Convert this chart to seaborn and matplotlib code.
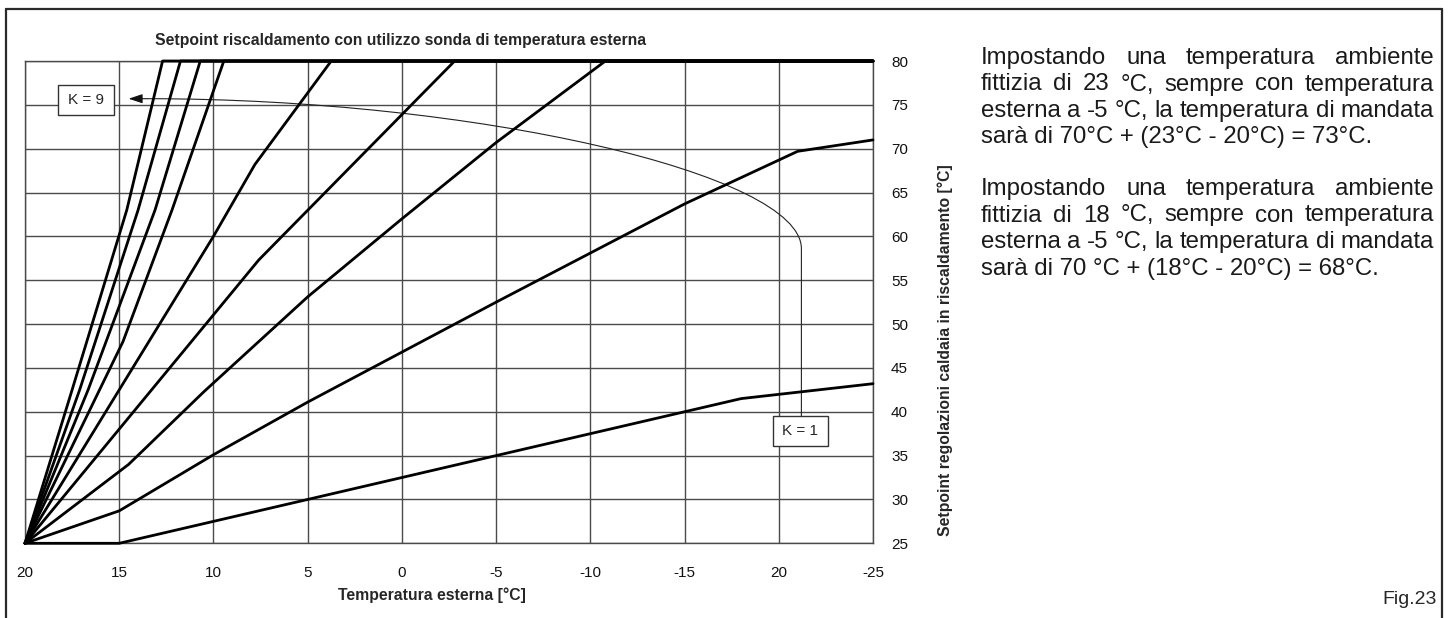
import matplotlib
matplotlib.use("Agg")
import numpy as np
import pandas as pd
import matplotlib.pyplot as plt
import seaborn as sns
from matplotlib.patches import PathPatch, Rectangle
from matplotlib.path import Path
from matplotlib.lines import Line2D

# ==========================================
# data
# ==========================================
x_ticks = [20, 15, 10, 5, 0, -5, -10, -15, -20, -25]
x_tick_labels = ["20", "15", "10", "5", "0", "-5", "-10", "-15", "20", "-25"]  # as printed
y_ticks = [25, 30, 35, 40, 45, 50, 55, 60, 65, 70, 75, 80]

# heating curves, outdoor temp -> boiler setpoint (K=1 lowest ... K=9 steepest)
k1_x = [20, 15, -18, -25]
k1_y = [25, 25, 41.5, 43.2]
k2_x = [20, 15, 10, 5, 0, -5, -10, -15, -21, -25]
k2_y = [25, 28.7, 35.1, 41.1, 46.8, 52.5, 58.1, 63.7, 69.7, 71.0]
k3_x = [20, 14.5, 10.5, 5, 0, -5, -10.8, -25]
k3_y = [25, 34.0, 42.3, 53.1, 62.0, 70.7, 80, 80]
k4_x = [20, 7.6, -2.8, -25]
k4_y = [25, 57.3, 80, 80]
k5_x = [20, 10, 7.8, 3.75, -25]
k5_y = [25, 60, 68.2, 80, 80]
k6_x = [20, 14.8, 12.2, 9.45, -25]
k6_y = [25, 48, 63, 80, 80]
k7_x = [20, 16.65, 13.1, 10.7, -25]
k7_y = [25, 42.5, 63, 80, 80]
k8_x = [20, 17.1, 14.0, 11.75, -25]
k8_y = [25, 42.5, 63, 80, 80]
k9_x = [20, 17.5, 14.6, 12.7, -25]
k9_y = [25, 42.5, 63, 80, 80]

curves = {1: (k1_x, k1_y), 2: (k2_x, k2_y), 3: (k3_x, k3_y), 4: (k4_x, k4_y),
          5: (k5_x, k5_y), 6: (k6_x, k6_y), 7: (k7_x, k7_y), 8: (k8_x, k8_y),
          9: (k9_x, k9_y)}

title = "Setpoint riscaldamento con utilizzo sonda di temperatura esterna"
xlabel = "Temperatura esterna [°C]"
ylabel = "Setpoint regolazioni caldaia in riscaldamento [°C]"

para1 = ["Impostando una temperatura ambiente",
         "fittizia di 23 °C, sempre con temperatura",
         "esterna a -5 °C, la temperatura di mandata",
         "sarà di 70°C + (23°C - 20°C) = 73°C."]
para2 = ["Impostando una temperatura ambiente",
         "fittizia di 18 °C, sempre con temperatura",
         "esterna a -5 °C, la temperatura di mandata",
         "sarà di 70 °C + (18°C - 20°C) = 68°C."]

df = pd.concat([pd.DataFrame({"t_ext": xs, "setpoint": ys, "K": k})
                for k, (xs, ys) in curves.items()], ignore_index=True)

# ==========================================
# figure
# ==========================================
sns.set_style("white")
plt.rcParams["font.family"] = ["Liberation Sans", "DejaVu Sans"]

W, H = 1450, 618
fig = plt.figure(figsize=(W / 100, H / 100), dpi=100)
ax = fig.add_axes([25 / W, 1 - 543.3 / H, 848 / W, 482.3 / H])

grid_col = "#4a4a4a"
sns.lineplot(data=df, x="t_ext", y="setpoint", units="K", estimator=None,
             sort=False, color="black", lw=2.0, ax=ax, legend=False,
             clip_on=False, zorder=3)

ax.set_xlim(20, -25)
ax.set_ylim(25, 80)
ax.set_xticks(x_ticks)
ax.set_xticklabels(x_tick_labels)
ax.set_yticks(y_ticks)
ax.yaxis.tick_right()
ax.tick_params(axis="both", length=0, labelsize=11, colors="#111111")
ax.tick_params(axis="x", pad=16)
ax.tick_params(axis="y", pad=13)
ax.grid(True, color=grid_col, lw=1.0)
for s in ax.spines.values():
    s.set_color(grid_col)
    s.set_linewidth(1.0)
ax.set_xlabel("")
ax.set_ylabel("")

# K boxes
ax.add_patch(Rectangle((15.28, 73.8), 2.95, 3.5, facecolor="white",
                       edgecolor="#333333", lw=1.0, zorder=4))
ax.text(16.75, 75.55, "K = 9", ha="center", va="center", fontsize=11, zorder=5)
ax.add_patch(Rectangle((-22.6, 36.1), 2.9, 3.4, facecolor="white",
                       edgecolor="#333333", lw=1.0, zorder=4))
ax.text(-21.15, 37.8, "K = 1", ha="center", va="center", fontsize=11, zorder=5)

# thin arrow K=1 -> K=9 (vertical stem, then a bend towards the K=9 box)
arrow_path = Path([(-21.2, 39.5), (-21.2, 58.6),
                   (-21.2, 67.15), (-3.85, 75.7), (13.5, 75.7)],
                  [Path.MOVETO, Path.LINETO, Path.CURVE4, Path.CURVE4, Path.CURVE4])
ax.add_patch(PathPatch(arrow_path, fill=False, edgecolor="#222222", lw=0.8,
                       zorder=2.5))
ax.annotate("", xy=(14.5, 75.7), xytext=(13.5, 75.7),
            arrowprops=dict(arrowstyle="-|>,head_length=0.6,head_width=0.2",
                            color="#111111", lw=0.8, mutation_scale=14,
                            shrinkA=0, shrinkB=0), zorder=5)

# labels
fig.text(401 / W, 1 - 40 / H, title, ha="center", va="center",
         fontsize=11.3, fontweight="bold")
fig.text(432 / W, 1 - 595 / H, xlabel, ha="center", va="center",
         fontsize=11.3, fontweight="bold")
fig.text(945 / W, 1 - 350 / H, ylabel, ha="center", va="center",
         rotation=90, fontsize=11.3, fontweight="bold")
fig.text(1410 / W, 1 - 600 / H, "Fig.23", ha="center", va="center", fontsize=14)

# justified paragraph text on the right
renderer = fig.canvas.get_renderer()
x_left, x_right = 981, 1434
fs = 17.3
line_step = 26.5


def put_paragraph(lines, y_first):
    for i, line in enumerate(lines):
        yb = 1 - (y_first + i * line_step + 6) / H
        if i == len(lines) - 1:
            fig.text(x_left / W, yb, line, fontsize=fs, va="baseline", color="#1a1a1a")
            continue
        words = line.split(" ")
        txts = [fig.text(0, yb, w, fontsize=fs, va="baseline", color="#1a1a1a")
                for w in words]
        widths = [t.get_window_extent(renderer).width for t in txts]
        gap = (x_right - x_left - sum(widths)) / (len(words) - 1)
        pos = x_left
        for t, w in zip(txts, widths):
            t.set_x(pos / W)
            pos += w + gap


put_paragraph(para1, 58)
put_paragraph(para2, 58 + 131)

# page frame
for xs, ys in [([6, 1442], [9, 9]), ([6, 6], [9, H]), ([1442, 1442], [9, H])]:
    fig.add_artist(Line2D([x / W for x in xs], [1 - y / H for y in ys],
                          color="#2a2a2a", lw=1.6))

fig.savefig("out.png", dpi=100, facecolor="white")
